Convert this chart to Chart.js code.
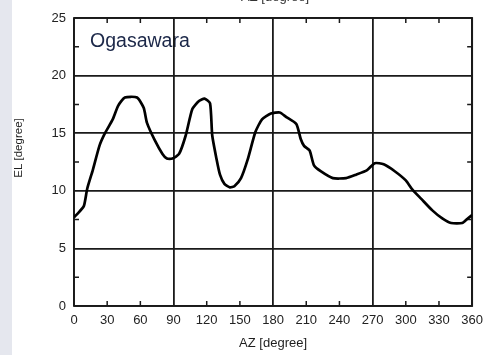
<!DOCTYPE html>
<html>
<head>
<meta charset="utf-8">
<script src="https://cdn.jsdelivr.net/npm/chart.js@4.4.0/dist/chart.umd.min.js"></script>
<style>
  html, body { margin: 0; padding: 0; background: #fff; }
  #wrap { position: relative; width: 490px; height: 355px; overflow: hidden; }
  #strip { position: absolute; left: 0; top: 0; width: 12px; height: 355px; background: #e5e7ee; }
  canvas { position: absolute; left: 0; top: 0; }
</style>
</head>
<body>
<div id="wrap">
  <div id="strip"></div>
  <canvas id="myChart" width="490" height="355"></canvas>
</div>
<script>
// elevation profile
let azValues = [0, 5, 9, 12, 17, 23, 28, 35, 40, 46, 57, 63, 66, 73, 80, 84, 89, 95, 101, 107,
  113, 118, 123, 125, 129, 132, 136, 141, 145, 151, 157, 164, 170, 178, 186, 192, 201, 205, 208, 213,
  217, 223, 234, 246, 255, 265, 272, 280, 290, 300, 306, 314, 324, 333, 341, 351, 356, 360];
let elValues = [7.7, 8.2, 8.7, 10.2, 11.8, 13.9, 15.0, 16.2, 17.4, 18.1, 18.1, 17.2, 15.9, 14.4, 13.2, 12.8, 12.8, 13.2, 14.8, 17.1,
  17.8, 18.0, 17.6, 14.8, 12.7, 11.4, 10.6, 10.3, 10.4, 11.1, 12.7, 15.1, 16.2, 16.7, 16.8, 16.4, 15.8, 14.5, 13.9, 13.5,
  12.2, 11.7, 11.1, 11.1, 11.4, 11.8, 12.4, 12.3, 11.7, 10.9, 10.1, 9.3, 8.3, 7.6, 7.2, 7.2, 7.6, 7.9];
let azTicks = [0, 30, 60, 90, 120, 150, 180, 210, 240, 270, 300, 330, 360];
let elTicks = [0, 5, 10, 15, 20, 25];
let azMinor = [30, 60, 120, 150, 210, 240, 300, 330];
let elMinor = [2.5, 7.5, 12.5, 17.5, 22.5];
let siteName = "Ogasawara";
let xTitle = "AZ [degree]";
let yTitle = "EL [degree]";

let ink = "#1a1a1a";
let labelFont = "'Liberation Sans', Arial, sans-serif";

let points = azValues.map((a, i) => ({ x: a, y: elValues[i] }));

// frame, inward minor ticks and the extra texts
let frame = {
  id: "frame",
  beforeDraw(chart) {
    let ctx = chart.ctx;
    let xs = chart.scales.x;
    let ys = chart.scales.y;
    ctx.save();
    // site name sits under the grid lines
    ctx.fillStyle = "#1b2748";
    ctx.font = "19.5px " + labelFont;
    ctx.textAlign = "left";
    ctx.textBaseline = "alphabetic";
    ctx.fillText(siteName, xs.getPixelForValue(14.5), ys.getPixelForValue(22.5));
    ctx.restore();
  },
  beforeDatasetsDraw(chart) {
    let ctx = chart.ctx;
    let a = chart.chartArea;
    let xs = chart.scales.x;
    let ys = chart.scales.y;
    ctx.save();
    ctx.strokeStyle = ink;
    ctx.lineWidth = 1.5;
    ctx.beginPath();
    azMinor.forEach(v => {
      let px = xs.getPixelForValue(v);
      ctx.moveTo(px, a.top); ctx.lineTo(px, a.top + 5);
      ctx.moveTo(px, a.bottom); ctx.lineTo(px, a.bottom - 5);
    });
    elMinor.forEach(v => {
      let py = ys.getPixelForValue(v);
      ctx.moveTo(a.left, py); ctx.lineTo(a.left + 5, py);
      ctx.moveTo(a.right, py); ctx.lineTo(a.right - 5, py);
    });
    ctx.stroke();
    ctx.lineWidth = 1.8;
    ctx.strokeRect(a.left, a.top, a.right - a.left, a.bottom - a.top);
    ctx.restore();
  },
  afterDraw(chart) {
    let ctx = chart.ctx;
    ctx.save();
    // cut-off title of the panel above
    ctx.fillStyle = "#333";
    ctx.font = "13px " + labelFont;
    ctx.textAlign = "center";
    ctx.fillText(xTitle, (chart.chartArea.left + chart.chartArea.right) / 2 + 2, 1);
    // y axis title
    ctx.translate(19, 148);
    ctx.rotate(-Math.PI / 2);
    ctx.font = "11.5px " + labelFont;
    ctx.fillStyle = "#1e1e1e";
    ctx.textBaseline = "middle";
    ctx.fillText(yTitle, 0, 0);
    ctx.restore();
  }
};

new Chart(document.getElementById("myChart"), {
  type: "line",
  data: {
    datasets: [{
      data: points,
      borderColor: "#000",
      borderWidth: 2.7,
      pointRadius: 0,
      tension: 0.2,
      fill: false
    }]
  },
  options: {
    responsive: false,
    devicePixelRatio: 1,
    animation: false,
    layout: { padding: { top: 18, right: 17, left: 0, bottom: 0 } },
    plugins: { legend: { display: false }, tooltip: { enabled: false } },
    scales: {
      x: {
        type: "linear",
        min: 0,
        max: 360,
        afterBuildTicks: s => { s.ticks = azTicks.map(v => ({ value: v })); },
        afterFit: s => { s.height = 49; },
        grid: {
          drawTicks: false,
          lineWidth: 1.8,
          color: c => (c.tick && c.tick.value % 90 === 0) ? ink : "rgba(0,0,0,0)"
        },
        border: { display: false },
        ticks: { padding: 7, maxRotation: 0, autoSkip: false, color: "#222", font: { family: labelFont, size: 13 } },
        title: { display: true, text: xTitle, color: "#1e1e1e", padding: { top: 0, bottom: 4 }, font: { family: labelFont, size: 13 } }
      },
      y: {
        type: "linear",
        min: 0,
        max: 25,
        afterBuildTicks: s => { s.ticks = elTicks.map(v => ({ value: v })); },
        afterFit: s => { s.width = 74; },
        grid: { drawTicks: false, lineWidth: 1.8, color: ink },
        border: { display: false },
        ticks: { padding: 8, color: "#222", font: { family: labelFont, size: 13 } }
      }
    }
  },
  plugins: [frame]
});
</script>
</body>
</html>
